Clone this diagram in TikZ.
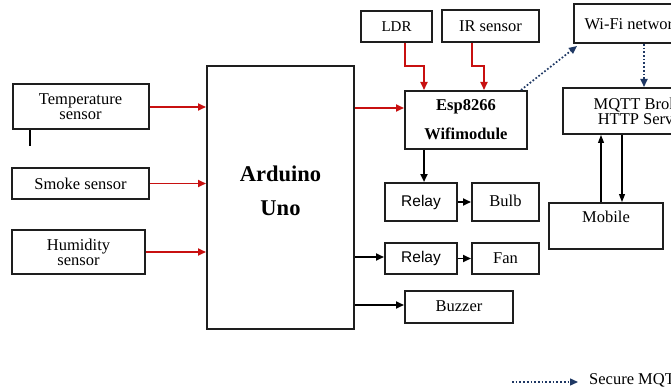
\documentclass[tikz,border=0pt]{standalone}
\usepackage{fontspec}
\setmainfont{Liberation Serif}
\newfontfamily\arialfont{Liberation Sans}
\usetikzlibrary{arrows.meta}
\definecolor{arrred}{RGB}{200,16,16}
\definecolor{navy}{RGB}{31,56,100}
\definecolor{boxline}{RGB}{30,30,30}
\begin{document}
\begin{tikzpicture}[x=1pt,y=-1pt,
  box/.style={draw=boxline,line width=2pt,rectangle,inner sep=0pt,align=center,font=\fontsize{16.5}{15}\selectfont},
  redarr/.style={draw=arrred,line width=1.8pt,-{Triangle[length=8pt,width=7pt]}},
  blkarr/.style={draw=black,line width=1.8pt,-{Triangle[length=8pt,width=7pt]}},
  thinarr/.style={draw=black,line width=1.1pt,-{Triangle[length=8pt,width=6pt]}},
  dotarr/.style={draw=navy,line width=1.7pt,dotted,-{Triangle[length=8pt,width=7pt]}}]
\useasboundingbox (0,0) rectangle (671,390);
\clip (0,0) rectangle (671,390);
% left sensors
\node[box,minimum width=136pt,minimum height=45pt] (temp) at (80.5,107) {Temperature\\sensor};
\draw[line width=2.4pt] ([xshift=-50.5pt]temp.south) -- ++(0,16);
\node[box,minimum width=137pt,minimum height=31pt] (smoke) at (80.5,183.5) {Smoke sensor};
\node[box,minimum width=133pt,minimum height=44pt] (humid) at (78.5,252) {Humidity\\sensor};
% arduino
\node[box,minimum width=147pt,minimum height=263pt,label={[align=center,yshift=7pt,font=\bfseries\fontsize{22.5}{22}\selectfont]center:Arduino\\[12pt]Uno}] (ard) at (280.5,197.5) {};
% esp
\node[box,minimum width=122pt,minimum height=58pt,font=\bfseries\fontsize{16.5}{15}\selectfont] (esp) at (466,120) {Esp8266\\[13pt]Wifimodule};
\node[box,minimum width=71pt,minimum height=31pt,font=\fontsize{15}{15}\selectfont] (ldr) at (396.5,26.5) {LDR};
\node[box,minimum width=97pt,minimum height=32pt] (ir) at (490.5,26) {IR sensor};
\node[box,minimum width=118pt,minimum height=39pt] (wifi) at (633,23.5) {Wi-Fi network};
\node[box,minimum width=158pt,minimum height=46pt] (mqtt) at (642,111) {MQTT Broker\\HTTP Server};
\node[box,minimum width=114pt,minimum height=46pt,label={[anchor=north,yshift=-6pt,font=\fontsize{16.5}{15}\selectfont]north:Mobile}] (mob) at (606,226) {};
% outputs
\node[box,minimum width=72pt,minimum height=38pt,font=\arialfont\fontsize{15.5}{15}\selectfont] (relay1) at (421,202) {Relay};
\node[box,minimum width=67pt,minimum height=38pt] (bulb) at (505.5,202) {\raisebox{2pt}{Bulb}};
\node[box,minimum width=72pt,minimum height=31pt,font=\arialfont\fontsize{15.5}{15}\selectfont] (relay2) at (421,258.5) {Relay};
\node[box,minimum width=67pt,minimum height=31pt] (fan) at (505.5,258.5) {\raisebox{1pt}{Fan}};
\node[box,minimum width=108pt,minimum height=32pt] (buzz) at (459,307) {\raisebox{2pt}{Buzzer}};
% connectors
\draw[redarr] (temp.east) -- (temp.east -| ard.west);
\draw[redarr] (smoke.east) -- (smoke.east -| ard.west);
\draw[redarr] (humid.east) -- (humid.east -| ard.west);
\draw[redarr] ([yshift=12pt]esp.west -| ard.east) -- ([yshift=12pt]esp.west);
\draw[redarr] ([xshift=8.5pt]ldr.south) -- ++(0,23) -| ([xshift=-42pt]esp.north);
\draw[redarr] ([xshift=-18.5pt]ir.south) -- ++(0,23) -| ([xshift=18pt]esp.north);
\draw[blkarr,line width=2.6pt] ([xshift=-42pt]esp.south) -- ([xshift=-42pt]esp.south |- relay1.north);
\draw[blkarr] (relay1.east) -- (bulb.west);
\draw[blkarr] (relay2.east) -- (fan.west);
\draw[blkarr] ([yshift=1.5pt]relay2.west -| ard.east) -- ([yshift=1.5pt]relay2.west);
\draw[blkarr] ([yshift=2pt]buzz.west -| ard.east) -- ([yshift=2pt]buzz.west);
\draw[dotarr] ([xshift=-7pt]esp.north east) -- ([xshift=4pt,yshift=-2pt]wifi.south west);
\draw[dotarr] ([xshift=11pt]wifi.south) -- ([xshift=11pt]wifi.south |- mqtt.north);
\draw[thinarr] ([xshift=-5pt]mob.north) -- ([xshift=-5pt]mob.north |- mqtt.south);
\draw[thinarr] ([xshift=16pt]mob.north |- mqtt.south) -- ([xshift=16pt]mob.north);
% legend
\coordinate (l1) at (512,382);
\coordinate (l2) at (578,382);
\draw[dotarr,line width=1.4pt] (l1) -- (l2);
\node[anchor=west,inner sep=0pt,font=\fontsize{16.5}{15}\selectfont] (leg) at (589,380) {Secure MQTT};
\end{tikzpicture}
\end{document}
